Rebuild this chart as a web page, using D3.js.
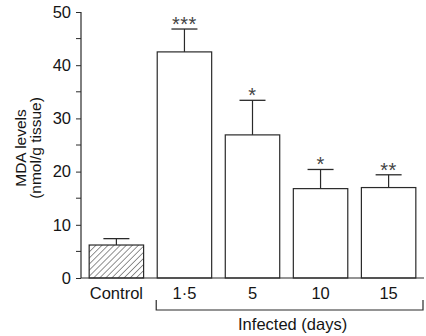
<!DOCTYPE html>
<html lang="en">
<head>
    <meta charset="UTF-8">
    <script src="https://d3js.org/d3.v7.min.js"></script>
    <title>MDA levels</title>
    <style>
        body { margin: 0; background: #fff; }
        svg { display: block; font-family: "Liberation Sans", Arial, sans-serif; }
    </style>
</head>
<body>
    <div id="chart"></div>
    <script>
        // values
        const categories = ["Control", "1·5", "5", "10", "15"];
        const means = [6.2, 42.5, 26.9, 16.8, 17.0];
        const errors = [1.2, 4.3, 6.5, 3.6, 2.4];
        const stars = ["", "***", "*", "*", "**"];
        const yTicks = [0, 10, 20, 30, 40, 50];
        const yMinorTicks = [5, 15, 25, 35, 45];

        const w = 426, h = 336;
        const plotLeft = 81, plotRight = 424, plotTop = 12, plotBottom = 278;
        const ink = "#2a2a2a";
        const textInk = "#151515";
        const fontSize = "16.5px";

        const svg = d3.select("#chart")
            .append("svg")
            .attr("width", w)
            .attr("height", h);

        // hatch for the control bar
        svg.append("defs")
            .append("pattern")
            .attr("id", "hatch")
            .attr("patternUnits", "userSpaceOnUse")
            .attr("width", 4.3)
            .attr("height", 4.3)
            .attr("patternTransform", "rotate(45)")
            .append("line")
            .attr("x1", 0).attr("y1", 0)
            .attr("x2", 0).attr("y2", 4.3)
            .attr("stroke", "#3a3a3a")
            .attr("stroke-width", 1.1);

        const xScale = d3.scaleBand()
            .domain(categories)
            .range([plotLeft, plotRight])
            .paddingInner(0.2)
            .paddingOuter(0.12);

        const yScale = d3.scaleLinear()
            .domain([0, 50])
            .range([plotBottom, plotTop]);

        const data = categories.map((c, i) => ({ cat: c, mean: means[i], err: errors[i], star: stars[i] }));

        // bars
        svg.selectAll("rect.bar")
            .data(data)
            .enter()
            .append("rect")
            .attr("class", "bar")
            .attr("x", d => xScale(d.cat))
            .attr("y", d => yScale(d.mean))
            .attr("width", xScale.bandwidth())
            .attr("height", d => yScale(0) - yScale(d.mean))
            .attr("fill", (d, i) => i === 0 ? "url(#hatch)" : "#fff")
            .attr("stroke", ink)
            .attr("stroke-width", 1.2);

        // error bars (upper only)
        const cx = d => xScale(d.cat) + xScale.bandwidth() / 2;
        svg.selectAll("line.err")
            .data(data)
            .enter()
            .append("line")
            .attr("class", "err")
            .attr("x1", cx).attr("x2", cx)
            .attr("y1", d => yScale(d.mean))
            .attr("y2", d => yScale(d.mean + d.err))
            .attr("stroke", ink)
            .attr("stroke-width", 1.2);

        svg.selectAll("line.cap")
            .data(data)
            .enter()
            .append("line")
            .attr("class", "cap")
            .attr("x1", d => cx(d) - 13).attr("x2", d => cx(d) + 13)
            .attr("y1", d => yScale(d.mean + d.err))
            .attr("y2", d => yScale(d.mean + d.err))
            .attr("stroke", ink)
            .attr("stroke-width", 1.3);

        // significance stars
        svg.selectAll("text.star")
            .data(data)
            .enter()
            .append("text")
            .attr("class", "star")
            .attr("x", cx)
            .attr("y", d => yScale(d.mean + d.err) + 2)
            .attr("text-anchor", "middle")
            .attr("font-size", "20px")
            .attr("letter-spacing", "0.5px")
            .attr("fill", "#444")
            .text(d => d.star);

        // y axis
        const yAxis = d3.axisLeft(yScale)
            .tickValues(yTicks)
            .tickSize(5)
            .tickPadding(5);

        const gy = svg.append("g")
            .attr("transform", `translate(${plotLeft},0)`)
            .call(yAxis);
        gy.select(".domain").attr("d", `M0,${plotTop}V${plotBottom}`);
        gy.selectAll("line").attr("stroke", ink);
        gy.selectAll(".domain").attr("stroke", ink).attr("stroke-width", 1.2);
        gy.selectAll("text")
            .attr("font-size", fontSize)
            .attr("font-family", "Liberation Sans, Arial, sans-serif")
            .attr("fill", textInk);

        gy.selectAll("line.minor")
            .data(yMinorTicks)
            .enter()
            .append("line")
            .attr("class", "minor")
            .attr("x1", -5).attr("x2", 0)
            .attr("y1", d => yScale(d)).attr("y2", d => yScale(d))
            .attr("stroke", ink);

        // x baseline
        svg.append("line")
            .attr("x1", plotLeft).attr("x2", plotRight)
            .attr("y1", plotBottom).attr("y2", plotBottom)
            .attr("stroke", ink)
            .attr("stroke-width", 1.2);

        // x category labels
        svg.selectAll("text.xlabel")
            .data(categories)
            .enter()
            .append("text")
            .attr("class", "xlabel")
            .attr("x", d => xScale(d) + xScale.bandwidth() / 2)
            .attr("y", 299)
            .attr("text-anchor", "middle")
            .attr("font-size", fontSize)
            .attr("fill", textInk)
            .text(d => d);

        // bracket under the infected groups
        const bx0 = xScale(categories[1]) - 1;
        const bx1 = plotRight - 1;
        svg.append("path")
            .attr("d", `M${bx0},300V310H${bx1}V300`)
            .attr("fill", "none")
            .attr("stroke", ink)
            .attr("stroke-width", 1.2);

        svg.append("text")
            .attr("x", (bx0 + bx1) / 2 + 3)
            .attr("y", 330)
            .attr("text-anchor", "middle")
            .attr("font-size", fontSize)
            .attr("fill", textInk)
            .text("Infected (days)");

        // y title
        const ty = 148;
        svg.append("text")
            .attr("transform", `translate(25.5,${ty}) rotate(-90)`)
            .attr("text-anchor", "middle")
            .attr("font-size", "15.5px")
            .attr("fill", textInk)
            .text("MDA levels");
        svg.append("text")
            .attr("transform", `translate(41,${ty}) rotate(-90)`)
            .attr("text-anchor", "middle")
            .attr("font-size", "15.5px")
            .attr("fill", textInk)
            .text("(nmol/g tissue)");
    </script>
</body>
</html>
